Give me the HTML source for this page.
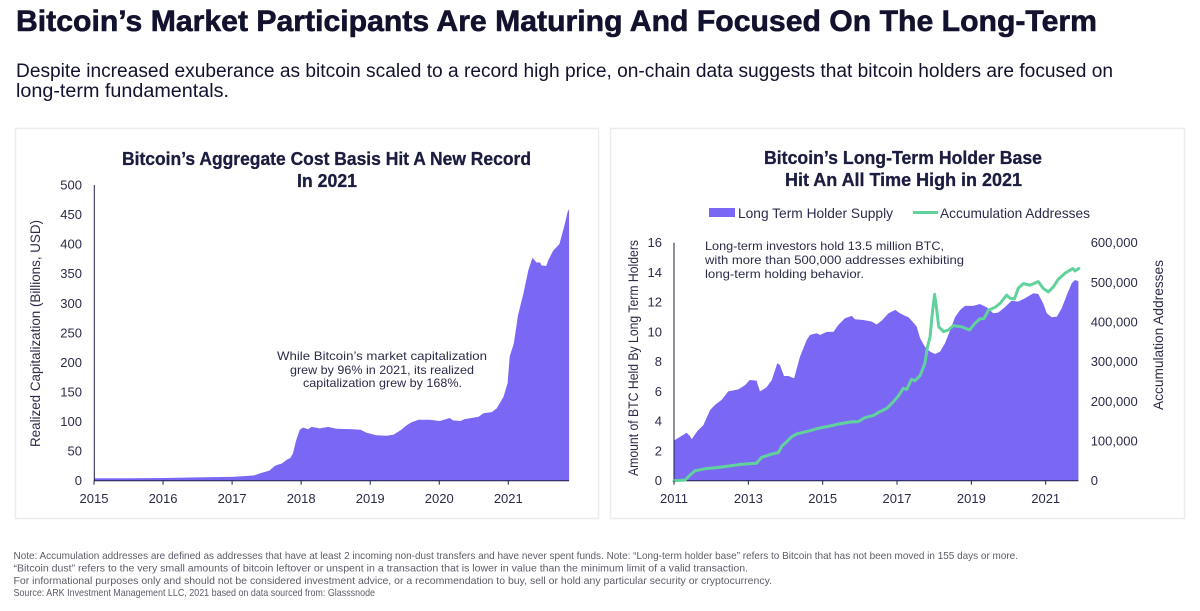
<!DOCTYPE html>
<html lang="en">
<head>
<meta charset="utf-8">
<title>Bitcoin's Market Participants Are Maturing</title>
<style>
html,body{margin:0;padding:0;background:#fff;width:1200px;height:611px;overflow:hidden}
svg{display:block;font-family:"Liberation Sans",sans-serif}
.tick{font-size:13px;fill:#2b2b4a}
.note{font-size:12px;fill:#2b2b4a}
.foot{font-size:10.2px;fill:#5c5c68}
.ct{font-size:18px;font-weight:700;fill:#1c1c40;stroke:#1c1c40;stroke-width:.3}
.leg{font-size:14px;fill:#2b2b4a}
.yt{font-size:13.5px;fill:#2b2b4a}
</style>
</head>
<body>
<svg id="page" width="1200" height="611" viewBox="0 0 1200 611" xmlns="http://www.w3.org/2000/svg">
  <text x="16" y="31" font-size="30" font-weight="700" fill="#12122e" stroke="#12122e" stroke-width=".6" textLength="1081" lengthAdjust="spacingAndGlyphs">Bitcoin’s Market Participants Are Maturing And Focused On The Long-Term</text>
  <text x="16" y="77" font-size="19" fill="#12122e" textLength="1097" lengthAdjust="spacingAndGlyphs">Despite increased exuberance as bitcoin scaled to a record high price, on-chain data suggests that bitcoin holders are focused on</text>
  <text x="16" y="97" font-size="19" fill="#12122e" textLength="213" lengthAdjust="spacingAndGlyphs">long-term fundamentals.</text>

  <rect x="15.5" y="128.5" width="583" height="390" fill="#fff" stroke="#ececec" stroke-width="1.5"/>
  <rect x="610.5" y="128.5" width="574" height="390" fill="#fff" stroke="#ececec" stroke-width="1.5"/>

  <text class="ct" x="122" y="165" textLength="409" lengthAdjust="spacingAndGlyphs">Bitcoin’s Aggregate Cost Basis Hit A New Record</text>
  <text class="ct" x="297" y="187" textLength="60" lengthAdjust="spacingAndGlyphs">In 2021</text>
  <text class="ct" x="764" y="164" textLength="278" lengthAdjust="spacingAndGlyphs">Bitcoin’s Long-Term Holder Base</text>
  <text class="ct" x="785" y="186" textLength="237" lengthAdjust="spacingAndGlyphs">Hit An All Time High in 2021</text>

  <g id="left-chart"></g>
  <g id="right-chart"></g>

  <text class="yt" transform="translate(40,447) rotate(-90)" textLength="227" lengthAdjust="spacingAndGlyphs">Realized Capitalization (Billions, USD)</text>
  <text class="yt" transform="translate(638,476) rotate(-90)" textLength="236" lengthAdjust="spacingAndGlyphs">Amount of BTC Held By Long Term Holders</text>
  <text class="yt" transform="translate(1163,410) rotate(-90)" textLength="150" lengthAdjust="spacingAndGlyphs">Accumulation Addresses</text>

  <text class="note" x="277" y="360" textLength="210" lengthAdjust="spacingAndGlyphs">While Bitcoin’s market capitalization</text>
  <text class="note" x="290" y="374" textLength="184" lengthAdjust="spacingAndGlyphs">grew by 96% in 2021, its realized</text>
  <text class="note" x="303" y="387" textLength="159" lengthAdjust="spacingAndGlyphs">capitalization grew by 168%.</text>

  <text class="note" x="705" y="250" textLength="239" lengthAdjust="spacingAndGlyphs">Long-term investors hold 13.5 million BTC,</text>
  <text class="note" x="705" y="264" textLength="259" lengthAdjust="spacingAndGlyphs">with more than 500,000 addresses exhibiting</text>
  <text class="note" x="705" y="278" textLength="159" lengthAdjust="spacingAndGlyphs">long-term holding behavior.</text>

  <rect x="709" y="208" width="26" height="9" fill="#7a68f5"/>
  <text class="leg" x="738" y="218" textLength="155" lengthAdjust="spacingAndGlyphs">Long Term Holder Supply</text>
  <line x1="913" y1="212.5" x2="938" y2="212.5" stroke="#62d29c" stroke-width="3"/>
  <text class="leg" x="940" y="218" textLength="150" lengthAdjust="spacingAndGlyphs">Accumulation Addresses</text>

  <text class="foot" x="13.5" y="559" textLength="1004.5" lengthAdjust="spacingAndGlyphs">Note: Accumulation addresses are defined as addresses that have at least 2 incoming non-dust transfers and have never spent funds. Note: “Long-term holder base” refers to Bitcoin that has not been moved in 155 days or more.</text>
  <text class="foot" x="13.5" y="571.5" textLength="734.5" lengthAdjust="spacingAndGlyphs">“Bitcoin dust” refers to the very small amounts of bitcoin leftover or unspent in a transaction that is lower in value than the minimum limit of a valid transaction.</text>
  <text class="foot" x="13.5" y="584" textLength="758.5" lengthAdjust="spacingAndGlyphs">For informational purposes only and should not be considered investment advice, or a recommendation to buy, sell or hold any particular security or cryptocurrency.</text>
  <text class="foot" x="13.5" y="596" textLength="361.5" lengthAdjust="spacingAndGlyphs">Source: ARK Investment Management LLC, 2021 based on data sourced from: Glasssnode</text>
</svg>
<script>
// Left chart data
const capYears = [2015,2015.5,2016,2016.5,2017,2017.2,2017.32,2017.42,2017.54,2017.62,2017.66,2017.72,2017.8,2017.84,2017.88,2017.93,2017.98,2018.03,2018.10,2018.15,2018.27,2018.39,2018.51,2018.75,2018.86,2018.95,2019.09,2019.24,2019.34,2019.45,2019.53,2019.60,2019.70,2019.86,2020.01,2020.15,2020.20,2020.31,2020.36,2020.57,2020.64,2020.76,2020.83,2020.93,2020.99,2021.02,2021.08,2021.14,2021.22,2021.29,2021.35,2021.41,2021.46,2021.48,2021.55,2021.58,2021.65,2021.74,2021.81,2021.86,2021.88];
const capValues = [4,4,4.5,5.5,6.5,8,9,13,17,25,27,29,36,38,46,69,86,90,87,91,88.5,91,88,87,86,81,77,76,78,86,94,99,103,103,101,106,102,101,104,108,114,116,122,142,165,210,232,280,317,356,377,369,369,364,363,373,389,400,430,455,459];
const capYTicks = [0,50,100,150,200,250,300,350,400,450,500];
const capXTicks = [2015,2016,2017,2018,2019,2020,2021];

// Right chart data
const supplyYears = [2011,2011.34,2011.43,2011.475,2011.63,2011.79,2011.97,2012.10,2012.28,2012.46,2012.73,2012.91,2013.04,2013.22,2013.31,2013.49,2013.63,2013.78,2013.85,2013.96,2014.08,2014.23,2014.39,2014.57,2014.66,2014.84,2014.93,2015.11,2015.29,2015.42,2015.60,2015.78,2015.87,2016.09,2016.32,2016.45,2016.59,2016.77,2016.95,2017.08,2017.22,2017.31,2017.44,2017.53,2017.62,2017.75,2017.89,2018.02,2018.16,2018.29,2018.43,2018.56,2018.70,2018.83,2019.05,2019.23,2019.41,2019.59,2019.72,2019.90,2020.08,2020.26,2020.44,2020.67,2020.80,2020.93,2021.03,2021.16,2021.30,2021.43,2021.57,2021.70,2021.79,2021.88];
const supplyValues = [2.7,3.23,3.0,2.78,3.34,3.74,4.75,5.09,5.43,6.0,6.14,6.43,6.77,6.73,6.0,6.28,6.77,7.89,7.78,7.04,7.04,6.88,8.34,9.46,9.8,9.91,9.8,10.0,10.0,10.47,10.92,11.08,10.85,10.8,10.7,10.5,10.76,11.26,11.48,11.26,11.08,10.99,10.63,10.36,9.57,9.01,8.68,8.52,8.68,9.24,10.13,10.99,11.48,11.75,11.75,11.88,11.66,11.26,11.3,11.66,12.1,12.04,12.26,12.6,12.55,11.93,11.26,10.99,11.03,11.59,12.49,13.27,13.5,13.4];
const addrYears = [2011,2011.30,2011.43,2011.565,2011.83,2012.15,2012.69,2012.78,2013.22,2013.36,2013.63,2013.81,2013.90,2014.03,2014.17,2014.30,2014.66,2014.88,2015.20,2015.38,2015.74,2015.96,2016.14,2016.36,2016.54,2016.72,2016.90,2017.04,2017.17,2017.26,2017.39,2017.48,2017.62,2017.75,2017.82,2017.89,2017.95,2018.01,2018.07,2018.12,2018.25,2018.38,2018.52,2018.74,2018.95,2019.10,2019.23,2019.34,2019.46,2019.64,2019.77,2019.95,2020.04,2020.16,2020.26,2020.40,2020.58,2020.80,2020.93,2021.07,2021.21,2021.34,2021.52,2021.73,2021.79,2021.89];
const addrValues = [0,1700,14000,25000,30000,33000,39500,41000,44000,59000,67000,71000,87000,98000,111000,118000,126000,132000,138000,142000,148000,149000,159000,164000,174000,182000,199000,214000,233000,230000,256000,252000,265000,296000,338000,363000,422000,470000,430000,388000,376000,380000,391000,388000,380000,397000,408000,409000,430000,437000,447000,468000,460000,458000,485000,497000,493000,502000,485000,476000,489000,508000,523000,535000,529000,535000];
const supplyTicks = [0,2,4,6,8,10,12,14,16];
const addrTicks = [0,100000,200000,300000,400000,500000,600000];
const holderXTicks = [2011,2013,2015,2017,2019,2021];

const NS = 'http://www.w3.org/2000/svg';
function mk(parent, tag, attrs, text) {
  const el = document.createElementNS(NS, tag);
  for (const k in attrs) el.setAttribute(k, attrs[k]);
  if (text !== undefined) el.textContent = text;
  parent.appendChild(el);
  return el;
}
function scale(d0, d1, r0, r1) {
  return v => r0 + (v - d0) / (d1 - d0) * (r1 - r0);
}
function pathOf(xs, ys, sx, sy) {
  return xs.map((x, i) => (i ? 'L' : 'M') + sx(x).toFixed(1) + ' ' + sy(ys[i]).toFixed(1)).join('');
}
const AXIS = '#1f1f47';
const BASE = 480.7;

// ---- Left chart ----
const leftG = document.getElementById('left-chart');
const capX = scale(2015, 2021, 94, 508.3);
const capY = scale(0, 500, BASE, 185);
const capArea = mk(leftG, 'path', {
  d: pathOf(capYears, capValues, capX, capY) + 'L' + capX(capYears[capYears.length - 1]).toFixed(1) + ' ' + BASE + 'L' + capX(capYears[0]).toFixed(1) + ' ' + BASE + 'Z',
  fill: '#7a68f5'
});


const capYAxis = mk(leftG, 'line', {x1: 94.3, x2: 94.3, y1: 185, y2: BASE + 0.5, stroke: AXIS, 'stroke-width': 1});


const capXAxis = mk(leftG, 'line', {x1: 94, x2: capX(capYears[capYears.length - 1]), y1: BASE, y2: BASE, stroke: AXIS, 'stroke-width': 1});


capYTicks.forEach(v => {
  const t = mk(leftG, 'text', {class: 'tick', x: 82, y: capY(v) + 4.5, 'text-anchor': 'end'}, String(v));
  
  
});
capXTicks.forEach(v => {
  const m = mk(leftG, 'line', {x1: capX(v), x2: capX(v), y1: BASE, y2: BASE + 4, stroke: AXIS, 'stroke-width': 1});
  
  
  const t = mk(leftG, 'text', {class: 'tick', x: capX(v), y: 503, 'text-anchor': 'middle'}, String(v));
  
  
});

// ---- Right chart ----
const rightG = document.getElementById('right-chart');
const holdX = scale(2011, 2021, 674, 1045.7);
const supplyY = scale(0, 16, BASE, 242.7);
const addrY = scale(0, 600000, BASE, 242.7);
const supplyArea = mk(rightG, 'path', {
  d: pathOf(supplyYears, supplyValues, holdX, supplyY) + 'L' + holdX(supplyYears[supplyYears.length - 1]).toFixed(1) + ' ' + BASE + 'L' + holdX(supplyYears[0]).toFixed(1) + ' ' + BASE + 'Z',
  fill: '#7a68f5'
});


const holdYAxis = mk(rightG, 'line', {x1: 674, x2: 674, y1: 242.7, y2: BASE + 0.5, stroke: AXIS, 'stroke-width': 1});


const holdXAxis = mk(rightG, 'line', {x1: 674, x2: holdX(supplyYears[supplyYears.length - 1]), y1: BASE, y2: BASE, stroke: AXIS, 'stroke-width': 1});


const addrLine = mk(rightG, 'path', {
  d: pathOf(addrYears, addrValues, holdX, addrY),
  fill: 'none', stroke: '#62d29c', 'stroke-width': 3, 'stroke-linejoin': 'round', 'stroke-linecap': 'round'
});


supplyTicks.forEach(v => {
  const t = mk(rightG, 'text', {class: 'tick', x: 662, y: supplyY(v) + 4.5, 'text-anchor': 'end'}, String(v));
  
  
});
addrTicks.forEach(v => {
  const t = mk(rightG, 'text', {class: 'tick', x: 1090.7, y: addrY(v) + 4.5}, v.toLocaleString('en-US'));
  
  
});
holderXTicks.forEach(v => {
  const m = mk(rightG, 'line', {x1: holdX(v), x2: holdX(v), y1: BASE, y2: BASE + 4, stroke: AXIS, 'stroke-width': 1});
  
  
  const t = mk(rightG, 'text', {class: 'tick', x: holdX(v), y: 503, 'text-anchor': 'middle'}, String(v));
  
  
});
</script>
</body>
</html>
